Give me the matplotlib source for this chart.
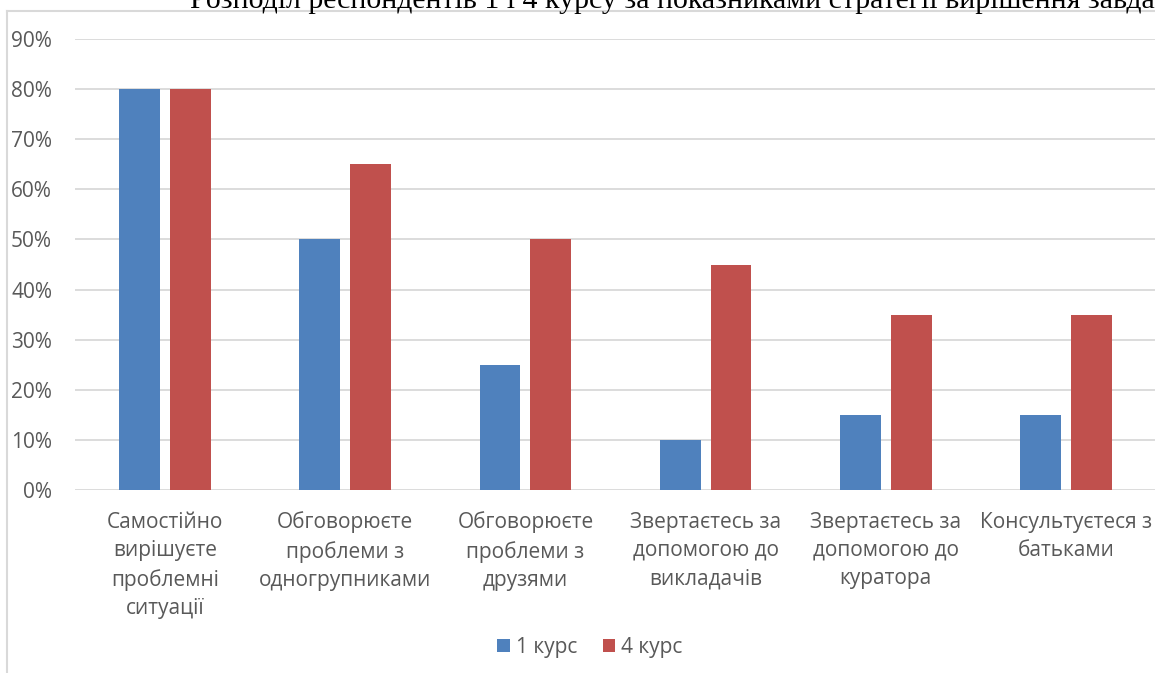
import numpy as np
import matplotlib
matplotlib.use("Agg")
import matplotlib.pyplot as plt
from matplotlib.lines import Line2D
from matplotlib.ticker import PercentFormatter

# Chart data
categories = [
    "Самостійно\nвирішуєте\nпроблемні\nситуації",
    "Обговорюєте\nпроблеми з\nодногрупниками",
    "Обговорюєте\nпроблеми з\nдрузями",
    "Звертаєтесь за\nдопомогою до\nвикладачів",
    "Звертаєтесь за\nдопомогою до\nкуратора",
    "Консультуєтеся з\nбатьками",
]
course_1 = [0.80, 0.50, 0.25, 0.10, 0.15, 0.15]
course_4 = [0.80, 0.65, 0.50, 0.45, 0.35, 0.35]
series_names = ["1 курс", "4 курс"]
title = "Розподіл респондентів 1 і 4 курсу за показниками стратегії вирішення завдань"

BLUE = "#4F81BD"
RED = "#C0504D"
GREY_TEXT = "#595959"
GRID = "#D9D9D9"

plt.rcParams['font.family'] = ['Open Sans', 'DejaVu Sans']

fig = plt.figure(figsize=(11.55, 6.73), dpi=100)
ax = fig.add_axes([75 / 1155, 1 - 490 / 673, 1081 / 1155, 451 / 673])

x = np.arange(len(categories))
width = 0.227
offset = (width + 0.055) / 2
ax.bar(x - offset, course_1, width, color=BLUE, label=series_names[0], zorder=3)
ax.bar(x + offset, course_4, width, color=RED, label=series_names[1], zorder=3)

ax.set_xlim(-0.5, len(categories) - 0.5)
ax.set_ylim(0, 0.9)
ax.set_yticks(np.arange(0, 0.91, 0.1))
ax.yaxis.set_major_formatter(PercentFormatter(1.0, decimals=0))
ax.grid(axis='y', color=GRID, linewidth=1.3, zorder=0)
for s in ax.spines.values():
    s.set_visible(False)
ax.tick_params(axis='both', length=0, labelsize=15, labelcolor=GREY_TEXT)
ax.tick_params(axis='y', pad=16.5)
ax.tick_params(axis='x', pad=15.5)
ax.set_xticks(x)
ax.set_xticklabels(categories, linespacing=1.46)

ax.legend(loc='center', bbox_to_anchor=(590 / 1155, 1 - 647 / 673),
          bbox_transform=fig.transFigure, ncol=2, frameon=False,
          fontsize=15, labelcolor=GREY_TEXT, handlelength=0.6,
          handleheight=0.6, handletextpad=0.3, columnspacing=1.2)

# chart border (cut off on the right)
border_top = 1 - 11 / 673
fig.add_artist(Line2D([7 / 1155, 7 / 1155], [0, border_top],
                      transform=fig.transFigure, color=GRID, linewidth=1.5))
fig.add_artist(Line2D([7 / 1155, 1], [border_top, border_top],
                      transform=fig.transFigure, color=GRID, linewidth=1.5))

# title partially cut off at the top, as in the source
fig.text(190 / 1155, 1 - 8 / 673, title, fontsize=21.5, va='baseline',
         family=['Liberation Serif', 'DejaVu Serif'], color='black')

fig.savefig("out.png", dpi=100)
